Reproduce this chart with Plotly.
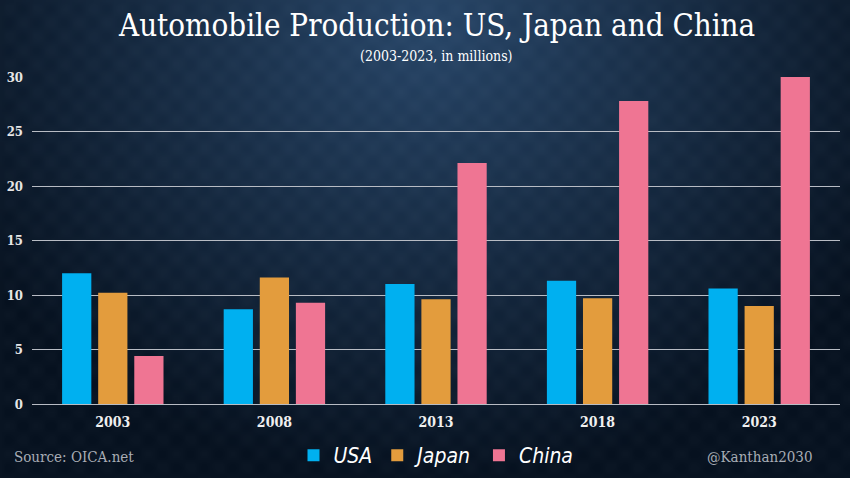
import base64, struct, zlib
import numpy as np
import plotly.graph_objects as go

years = ["2003", "2008", "2013", "2018", "2023"]
usa = [12.0, 8.7, 11.0, 11.3, 10.6]
japan = [10.2, 11.6, 9.6, 9.7, 9.0]
china = [4.4, 9.3, 22.1, 27.8, 30.0]
series_names = ["USA", "Japan", "China"]
colors = ["#00b0f0", "#e39c3d", "#ef7593"]

# background gradient image (decoration)
W, H = 212, 120
yy, xx = np.mgrid[0:H, 0:W]
dx = (xx - W / 2) / (W * 0.62)
dy = (yy - H * 0.05) / (H * 0.95)
d = np.clip(np.sqrt(dx ** 2 + dy ** 2), 0, 1)
c0 = np.array([42, 72, 106.0])
c1 = np.array([9, 20, 34.0])
t = d ** 1.0
img = (c0[None, None, :] * (1 - t[..., None]) + c1[None, None, :] * t[..., None])
tex = (np.sin(xx * 0.9) * np.sin(yy * 0.9)) * 3
img = np.clip(img + tex[..., None], 0, 255).astype(np.uint8)
raw = b"".join(b"\x00" + img[r].tobytes() for r in range(H))
def chunk(tag, data):
    c = struct.pack(">I", len(data)) + tag + data
    return c + struct.pack(">I", zlib.crc32(tag + data) & 0xffffffff)
png = b"\x89PNG\r\n\x1a\n" + chunk(b"IHDR", struct.pack(">IIBBBBB", W, H, 8, 2, 0, 0, 0)) \
    + chunk(b"IDAT", zlib.compress(raw, 9)) + chunk(b"IEND", b"")
src = "data:image/png;base64," + base64.b64encode(png).decode()

fig = go.Figure()
for name, vals, col in zip(series_names, [usa, japan, china], colors):
    fig.add_trace(go.Bar(x=years, y=vals, name=name, marker=dict(color=col, line=dict(width=0))))

PW, PH = 808, 327
serif = "DejaVu Serif Condensed, DejaVu Serif, serif"
fig.update_layout(
    width=850, height=478,
    margin=dict(l=32, r=10, t=77, b=74, autoexpand=False),
    paper_bgcolor="#0e1c2e", plot_bgcolor="rgba(0,0,0,0)",
    barmode="group", bargap=0.33, bargroupgap=0.19,
    images=[dict(source=src, xref="paper", yref="paper", x=-32/PW, y=1 + 77/PH,
                 sizex=850/PW, sizey=478/PH, sizing="stretch", layer="below",
                 xanchor="left", yanchor="top")],
    xaxis=dict(showgrid=False, automargin=False,
               tickfont=dict(family=serif, size=14, color="#f0f0f0", weight="bold"),
               ticks="", showline=False, ticklabelstandoff=8),
    yaxis=dict(range=[0, 30], dtick=5, showgrid=True, gridcolor="#b8bcc4", gridwidth=1,
               automargin=False,
               zeroline=True, zerolinecolor="#b8bcc4", zerolinewidth=1,
               tickfont=dict(family=serif, size=13, color="#e6e6e6", weight="bold"),
               ticklabelstandoff=8),
    legend=dict(orientation="h", x=0.5, xanchor="center", y=-31/PH, yanchor="top",
                font=dict(family="DejaVu Sans Condensed, Liberation Sans Narrow, sans-serif",
                          size=21, color="#ffffff", style="italic"),
                itemwidth=30, traceorder="normal", bgcolor="rgba(0,0,0,0)"),
    annotations=[
        dict(text="Automobile Production: US, Japan and China", xref="paper", yref="paper",
             x=0.5, y=1 + 52/PH, xanchor="center", yanchor="middle", showarrow=False,
             font=dict(family=serif, size=31, color="#ffffff")),
        dict(text="(2003-2023, in millions)", xref="paper", yref="paper",
             x=0.5, y=1 + 21/PH, xanchor="center", yanchor="middle", showarrow=False,
             font=dict(family=serif, size=14, color="#ffffff")),
        dict(text="Source: OICA.net", xref="paper", yref="paper",
             x=-20/PW, y=-53/PH, xanchor="left", yanchor="middle", showarrow=False,
             font=dict(family=serif, size=15, color="#a8adb5")),
        dict(text="@Kanthan2030", xref="paper", yref="paper",
             x=1 - 25/PW, y=-53/PH, xanchor="right", yanchor="middle", showarrow=False,
             font=dict(family=serif, size=15, color="#a8adb5")),
    ],
)
fig.write_html("out.html", config={"displayModeBar": False},
               post_script="document.body.style.margin='0';document.body.style.background='#0e1c2e';")
